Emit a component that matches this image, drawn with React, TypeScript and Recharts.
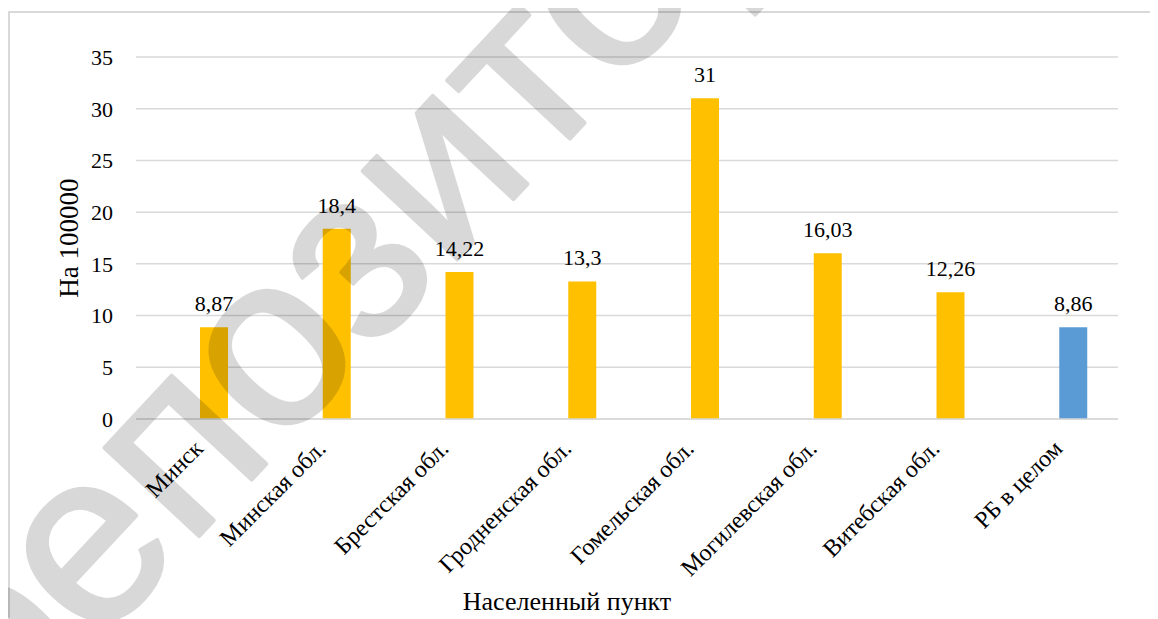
import React from "react";
import { BarChart, Bar, XAxis, YAxis, CartesianGrid, LabelList, Cell, Label } from "recharts";

const categories = [
  "Минск",
  "Минская обл.",
  "Брестская обл.",
  "Гродненская обл.",
  "Гомельская обл.",
  "Могилевская обл.",
  "Витебская обл.",
  "РБ в целом",
];
const values = [8.87, 18.4, 14.22, 13.3, 31, 16.03, 12.26, 8.86];
const yTicks = [0, 5, 10, 15, 20, 25, 30, 35];
const totalCategory = "РБ в целом";
const yTitle = "На 100000";
const xTitle = "Населенный пункт";
const watermark = "репозиторий";

const data = categories.map((name, i) => ({ name, value: values[i] }));

const FONT = "Liberation Serif, Tinos, DejaVu Serif, serif";
const YELLOW = "#FFC000";
const BLUE = "#5B9BD5";
const GRID = "#d9d9d9";

const XTick = (props: any) => {
  const { x, y, payload } = props;
  const tx = x + 7;
  return (
    <text
      x={tx}
      y={y}
      transform={`rotate(-45, ${tx}, ${y})`}
      textAnchor="end"
      style={{ fontFamily: FONT, fontSize: 24 }}
      fill="#000"
    >
      {payload.value}
    </text>
  );
};

const fmt = (v: any) => String(v).replace(".", ",");

export default function App() {
  return (
    <div style={{ position: "relative", width: 1150, height: 611, fontFamily: FONT }}>
      <div
        style={{
          position: "absolute",
          left: 0,
          top: 3,
          width: 1150,
          height: 640,
          boxSizing: "border-box",
          border: `2px solid ${GRID}`,
        }}
      />
      <div style={{ position: "absolute", left: 0, top: 0 }}>
        <BarChart
          width={1150}
          height={611}
          data={data}
          margin={{ top: 49, right: 40, left: 0, bottom: 50 }}
          barSize={28}
          barGap={6}
          style={{ fontFamily: FONT }}
        >
          <CartesianGrid vertical={false} stroke={GRID} strokeWidth={1.5} />
          <XAxis
            dataKey="name"
            interval={0}
            height={150}
            tickLine={false}
            axisLine={{ stroke: GRID, strokeWidth: 1.5 }}
            tickSize={0}
            tickMargin={31}
            tick={<XTick />}
          >
            <Label
              content={(p: any) => {
                const vb = p.viewBox;
                return (
                  <text
                    x={vb.x + vb.width / 2 - 60}
                    y={602}
                    textAnchor="middle"
                    style={{ fontFamily: FONT, fontSize: 26 }}
                    fill="#000"
                  >
                    {xTitle}
                  </text>
                );
              }}
            />
          </XAxis>
          <YAxis
            width={128}
            domain={[0, 35]}
            ticks={yTicks}
            axisLine={false}
            tickLine={false}
            tickSize={0}
            tickMargin={23}
            tick={{ style: { fontFamily: FONT, fontSize: 22 }, fill: "#000" }}
          >
            <Label
              content={(p: any) => {
                const vb = p.viewBox;
                const cx = 70;
                const cy = vb.y + vb.height / 2;
                return (
                  <text
                    x={cx}
                    y={cy}
                    transform={`rotate(-90, ${cx}, ${cy})`}
                    textAnchor="middle"
                    style={{ fontFamily: FONT, fontSize: 27 }}
                    fill="#000"
                  >
                    {yTitle}
                  </text>
                );
              }}
            />
          </YAxis>
          <Bar dataKey="spacer" fill="none" isAnimationActive={false} />
          <Bar dataKey="value" isAnimationActive={false}>
            {data.map((d) => (
              <Cell key={d.name} fill={d.name === totalCategory ? BLUE : YELLOW} />
            ))}
            <LabelList
              dataKey="value"
              position="top"
              offset={16}
              formatter={fmt}
              style={{ fontFamily: FONT, fontSize: 22, fill: "#000" }}
            />
          </Bar>
        </BarChart>
      </div>
      <svg
        width={1158}
        height={619}
        style={{ position: "absolute", left: -8, top: -8, pointerEvents: "none" }}
      >
        <g opacity={0.15}>
          <text
            x={494}
            y={220}
            transform="rotate(-47, 494, 220)"
            textAnchor="middle"
            style={{ fontFamily: "Liberation Sans, Arial, sans-serif", fontSize: 245 }}
            fill="#000"
            stroke="#000"
            strokeWidth={4}
            strokeLinejoin="round"
          >
            {watermark}
          </text>
        </g>
      </svg>
    </div>
  );
}
